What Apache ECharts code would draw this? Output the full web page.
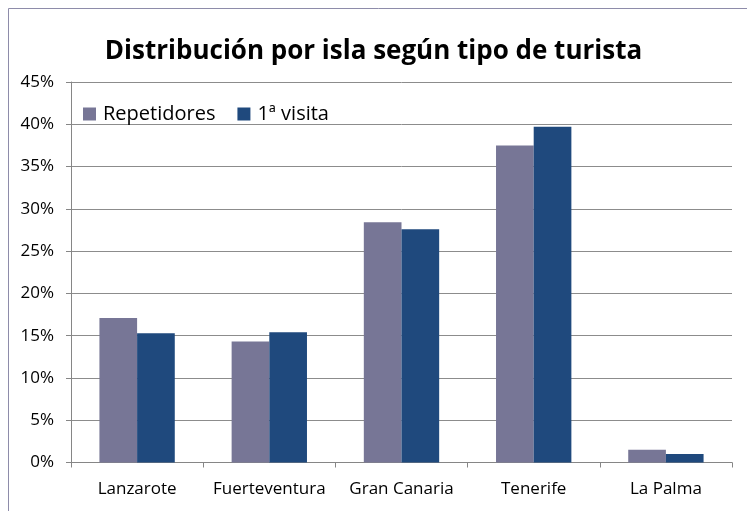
<!DOCTYPE html>
<html>
<head>
<meta charset="utf-8">
<script src="https://cdn.jsdelivr.net/npm/echarts@6/dist/echarts.min.js"></script>
<style>html,body{margin:0;padding:0;background:#fff}#c{width:747px;height:511px}</style>
</head>
<body>
<div id="c"></div>
<script>
var categories = ['Lanzarote', 'Fuerteventura', 'Gran Canaria', 'Tenerife', 'La Palma'];
var repetidores = [17.1, 14.3, 28.4, 37.5, 1.5];
var primeraVisita = [15.3, 15.4, 27.6, 39.7, 1.0];
var seriesNames = ['Repetidores', '1ª visita'];
var titleText = 'Distribución por isla según tipo de turista';

var FONT = '"Open Sans", Lato, sans-serif';
var chart = echarts.init(document.getElementById('c'), null, {renderer: 'canvas'});
chart.setOption({
  animation: false,
  backgroundColor: '#ffffff',
  graphic: [{
    type: 'rect', shape: {x: 8.5, y: 8.5, width: 760, height: 520},
    style: {fill: 'none', stroke: '#8e8caa', lineWidth: 1}, silent: true, z: -1
  }],
  title: {
    text: titleText, left: 'center', top: 34,
    textStyle: {fontFamily: FONT, fontWeight: 'bold', fontSize: 26, color: '#000'}
  },
  legend: {
    left: 78, top: 99, itemWidth: 13, itemHeight: 13, itemGap: 22,
    icon: 'rect',
    textStyle: {fontFamily: FONT, fontSize: 20, color: '#000', padding: [0, 0, 0, 2]},
    data: seriesNames
  },
  grid: {left: 71, right: 15, top: 82, bottom: 48.5},
  xAxis: {
    type: 'category', data: categories,
    axisLine: {lineStyle: {color: '#868686', width: 1}},
    axisTick: {show: true, length: 5, lineStyle: {color: '#868686'}},
    axisLabel: {fontFamily: FONT, fontSize: 17, color: '#000', margin: 18, interval: 0}
  },
  yAxis: {
    type: 'value', min: 0, max: 45, interval: 5,
    axisLine: {show: true, lineStyle: {color: '#868686', width: 1}},
    axisTick: {show: true, length: 5, lineStyle: {color: '#868686'}},
    splitLine: {lineStyle: {color: '#8c8c8c', width: 1}},
    axisLabel: {fontFamily: FONT, fontSize: 17, color: '#000', margin: 17, formatter: '{value}%'}
  },
  series: [
    {name: seriesNames[0], type: 'bar', data: repetidores, barGap: '0%', barCategoryGap: '43%',
     itemStyle: {color: '#777696'}},
    {name: seriesNames[1], type: 'bar', data: primeraVisita, barGap: '0%', barCategoryGap: '43%',
     itemStyle: {color: '#1f497d'}}
  ]
});
</script>
</body>
</html>
